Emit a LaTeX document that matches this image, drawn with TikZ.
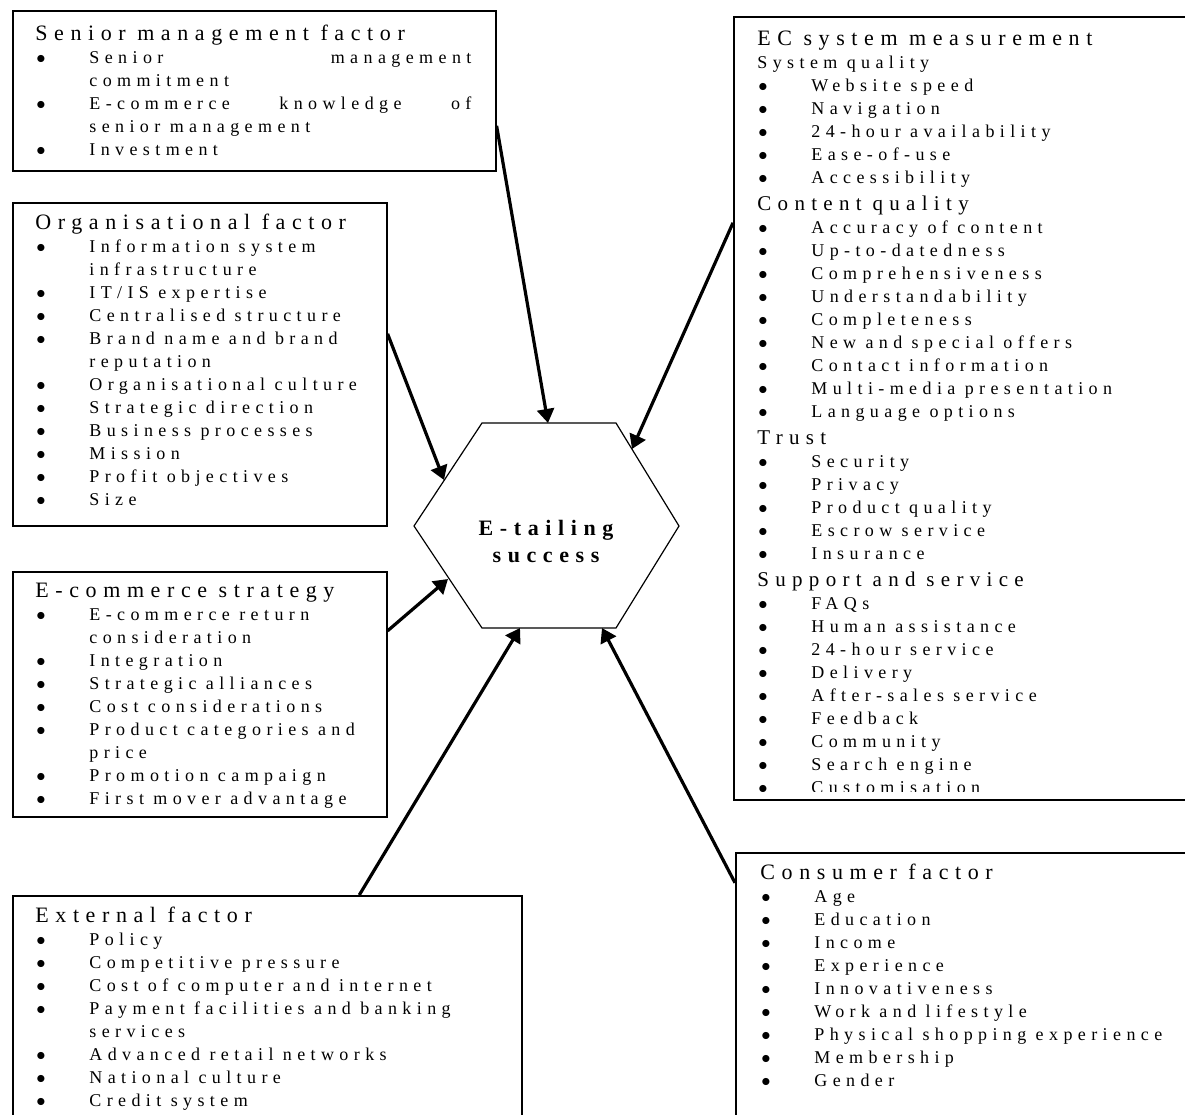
\documentclass[tikz,border=0pt]{standalone}
\usepackage{fontspec}
\setmainfont{Liberation Serif}[LetterSpace=30]
\usetikzlibrary{arrows.meta}

\newcommand{\wsp}{\spaceskip=0.52em plus 0.3em\relax}
\newcommand{\hd}[1]{{\fontsize{11}{11.5}\selectfont\wsp #1\par}}
\newcommand{\subhd}[1]{{\fontsize{10.5}{13.5}\selectfont\wsp #1\par}}
\newcommand{\bi}[1]{{\wsp\makebox[27pt][l]{\hspace{0.5pt}$\bullet$}#1\par}}
\newcommand{\ct}[1]{{\wsp\hspace*{27pt}#1\par}}

\begin{document}
\begin{tikzpicture}[x=0.5pt,y=-0.5pt,
    factor/.style={draw, line width=0.8pt, inner sep=0pt, anchor=north west},
    txt/.style={anchor=base west, inner sep=0pt, text width=#1, align=left,
      font=\fontsize{9}{11.5}\selectfont},
    txt/.default=230pt,
    feed/.style={line width=1.6pt, -{Triangle[length=7pt,width=8.5pt]}}]
  \useasboundingbox (0,0) rectangle (1185,1115);

  % the six factor boxes
  \node[factor, minimum width=241.5pt, minimum height=80pt] (senior) at (12,10) {};
  \node[factor, minimum width=187pt, minimum height=161.5pt] (organ) at (12,202) {};
  \node[factor, minimum width=187pt, minimum height=122.5pt] (strategy) at (12,571) {};
  \node[factor, minimum width=254.5pt, minimum height=120pt] (external) at (12,895) {};
  \node[factor, minimum width=230pt, minimum height=140pt] (consumer) at (735,852) {};
  \node[factor, minimum width=230pt, minimum height=391.5pt] (ecsys) at (733,16) {};

  \node[txt] (senior-txt) at (35,40) {\hd{Senior management factor}%
    \bi{\makebox[191pt][s]{Senior management}}\ct{commitment}%
    \bi{\makebox[191pt][s]{E-commerce knowledge of}}\ct{senior management}%
    \bi{Investment}};
  \node[txt] (organ-txt) at (35,229.5) {\hd{Organisational factor}%
    \bi{Information system}\ct{infrastructure}\bi{IT/IS expertise}%
    \bi{Centralised structure}\bi{Brand name and brand}\ct{reputation}%
    \bi{Organisational culture}\bi{Strategic direction}\bi{Business processes}%
    \bi{Mission}\bi{Profit objectives}\bi{Size}};
  \node[txt] (strategy-txt) at (35,597.5) {\hd{E-commerce strategy}%
    \bi{E-commerce return}\ct{consideration}\bi{Integration}%
    \bi{Strategic alliances}\bi{Cost considerations}%
    \bi{Product categories and}\ct{price}\bi{Promotion campaign}%
    \bi{First mover advantage}};
  \node[txt=250pt] (external-txt) at (35,922.5) {\hd{External factor}%
    \bi{Policy}\bi{Competitive pressure}\bi{Cost of computer and internet}%
    \bi{Payment facilities and banking}\ct{services}%
    \bi{Advanced retail networks}\bi{National culture}\bi{Credit system}};
  \node[txt] (consumer-txt) at (760,879.5) {\hd{Consumer factor}%
    \bi{Age}\bi{Education}\bi{Income}\bi{Experience}\bi{Innovativeness}%
    \bi{Work and lifestyle}\bi{Physical shopping experience}%
    \bi{Membership}\bi{Gender}};
  \begin{scope}
    \clip (733,16) rectangle (1185,791);
    \node[txt] (ecsys-txt) at (757,45.5) {\hd{EC system measurement}%
      {\wsp System quality\par}%
      \bi{Website speed}\bi{Navigation}\bi{24-hour availability}%
      \bi{Ease-of-use}\bi{Accessibility}%
      \subhd{Content quality}%
      \bi{Accuracy of content}\bi{Up-to-datedness}\bi{Comprehensiveness}%
      \bi{Understandability}\bi{Completeness}\bi{New and special offers}%
      \bi{Contact information}\bi{Multi-media presentation}\bi{Language options}%
      \subhd{Trust}%
      \bi{Security}\bi{Privacy}\bi{Product quality}\bi{Escrow service}%
      \bi{Insurance}%
      \subhd{Support and service}%
      \bi{FAQs}\bi{Human assistance}\bi{24-hour service}\bi{Delivery}%
      \bi{After-sales service}\bi{Feedback}\bi{Community}\bi{Search engine}%
      \bi{Customisation}};
  \end{scope}

  % hexagon in the middle
  \coordinate (h1) at (482,423);
  \coordinate (h2) at (616,423);
  \coordinate (h3) at (679,526);
  \coordinate (h4) at (616,628);
  \coordinate (h5) at (482,628);
  \coordinate (h6) at (414,526);
  \draw[line width=0.6pt] (h1) -- (h2) -- (h3) -- (h4) -- (h5) -- (h6) -- cycle;
  \node[anchor=base, inner sep=0pt, text width=90pt, align=center,
    font=\fontsize{11}{13.5}\selectfont\bfseries] (hub) at (546,535.5)
    {E-tailing\\success};

  \coordinate (inA) at (548,423);
  \coordinate (inB) at (444,480);
  \coordinate (inC) at (448,579);
  \coordinate (inD) at (520,628);
  \coordinate (inE) at (602,628);
  \coordinate (inF) at (632,449);

  \draw[feed] ([shift={(0,35)}]senior.east) -- (inA);
  \draw[feed] ([shift={(0,-30.5)}]organ.east) -- (inB);
  \draw[feed] ([shift={(0,-63.5)}]strategy.east) -- (inC);
  \draw[feed] ([shift={(92,0)}]external.north) -- (inD);
  \draw[feed] ([shift={(0,-110)}]consumer.west) -- (inE);
  \draw[feed] ([shift={(0,-185.5)}]ecsys.west) -- (inF);
\end{tikzpicture}
\end{document}
